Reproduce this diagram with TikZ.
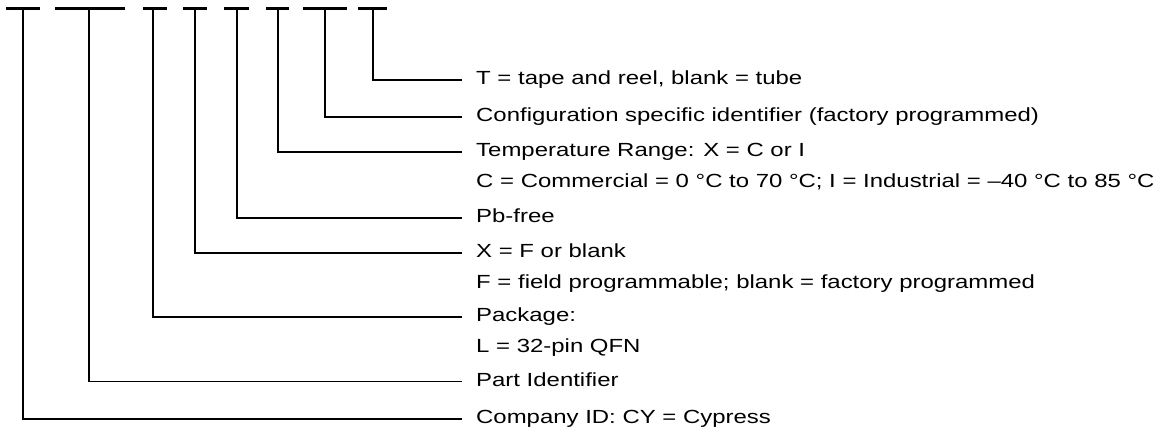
\documentclass[tikz,border=0pt]{standalone}
\usepackage{fontspec}
\setmainfont{Liberation Sans}[FakeStretch=1.26]
\usepackage{tikz}
\usetikzlibrary{positioning, calc}

\begin{document}
\begin{tikzpicture}[
    x=1pt, y=-1pt,
    desc/.style={anchor=west, inner xsep=14pt, inner ysep=0pt, text height=9pt, text depth=0pt, font=\fontsize{19}{31}\selectfont},
    descb/.style={anchor=base west, inner xsep=14pt, inner ysep=0pt, font=\fontsize{19}{31}\selectfont},
    bar/.style={line width=2.6pt},
    link/.style={-, line width=1.8pt}
]
    \useasboundingbox (0,0) rectangle (1160,432);

    % Field bars along the top of the part number
    \draw[bar] (6,8.7) -- (40,8.7);
    \draw[bar] (55,8.7) -- (125,8.7);
    \draw[bar] (143,8.7) -- (167,8.7);
    \draw[bar] (183,8.7) -- (207,8.7);
    \draw[bar] (224,8.7) -- (249,8.7);
    \draw[bar] (266,8.7) -- (289,8.7);
    \draw[bar] (303,8.7) -- (347,8.7);
    \draw[bar] (358,8.7) -- (387,8.7);

    % Stem points (under each bar)
    \coordinate (company) at (22.7,8.7);
    \coordinate (part) at (88.7,8.7);
    \coordinate (package) at (152.7,8.7);
    \coordinate (prog) at (195,8.7);
    \coordinate (pbfree) at (236.7,8.7);
    \coordinate (temp) at (277.7,8.7);
    \coordinate (config) at (325,8.7);
    \coordinate (tape) at (372.7,8.7);

    % Descriptions
    \node[desc] (tape_d) at (462,80) {T = tape and reel, blank = tube};
    \node[desc] (config_d) at (462,116.7) {Configuration specific identifier (factory programmed)};
    \node[desc] (temp_d) at (462,152) {Temperature Range: X = C or I};
    \node[descb] (temp_e) at ([yshift=-31pt]temp_d.base west) {C = Commercial = 0 °C to 70 °C; I = Industrial = –40 °C to 85 °C};
    \node[desc] (pbfree_d) at (462,218) {Pb-free};
    \node[desc] (prog_d) at (462,253) {X = F or blank};
    \node[descb] (prog_e) at ([yshift=-31pt]prog_d.base west) {F = field programmable; blank = factory programmed};
    \node[desc] (package_d) at (462,316.7) {Package:};
    \node[descb] (package_e) at ([yshift=-31pt]package_d.base west) {L = 32-pin QFN};
    \node[desc] (part_d) at (462,381.5) {Part Identifier};
    \node[desc] (company_d) at (462,419) {Company ID: CY = Cypress};

    % Leader lines
    \draw[link] (tape) |- (tape_d.west);
    \draw[link] (config) |- (config_d.west);
    \draw[link] (temp) |- (temp_d.west);
    \draw[link] (pbfree) |- (pbfree_d.west);
    \draw[link] (prog) |- (prog_d.west);
    \draw[link] (package) |- (package_d.west);
    \draw[link] (part) |- (part_d.west);
    \draw[link] (company) |- (company_d.west);
\end{tikzpicture}
\end{document}
